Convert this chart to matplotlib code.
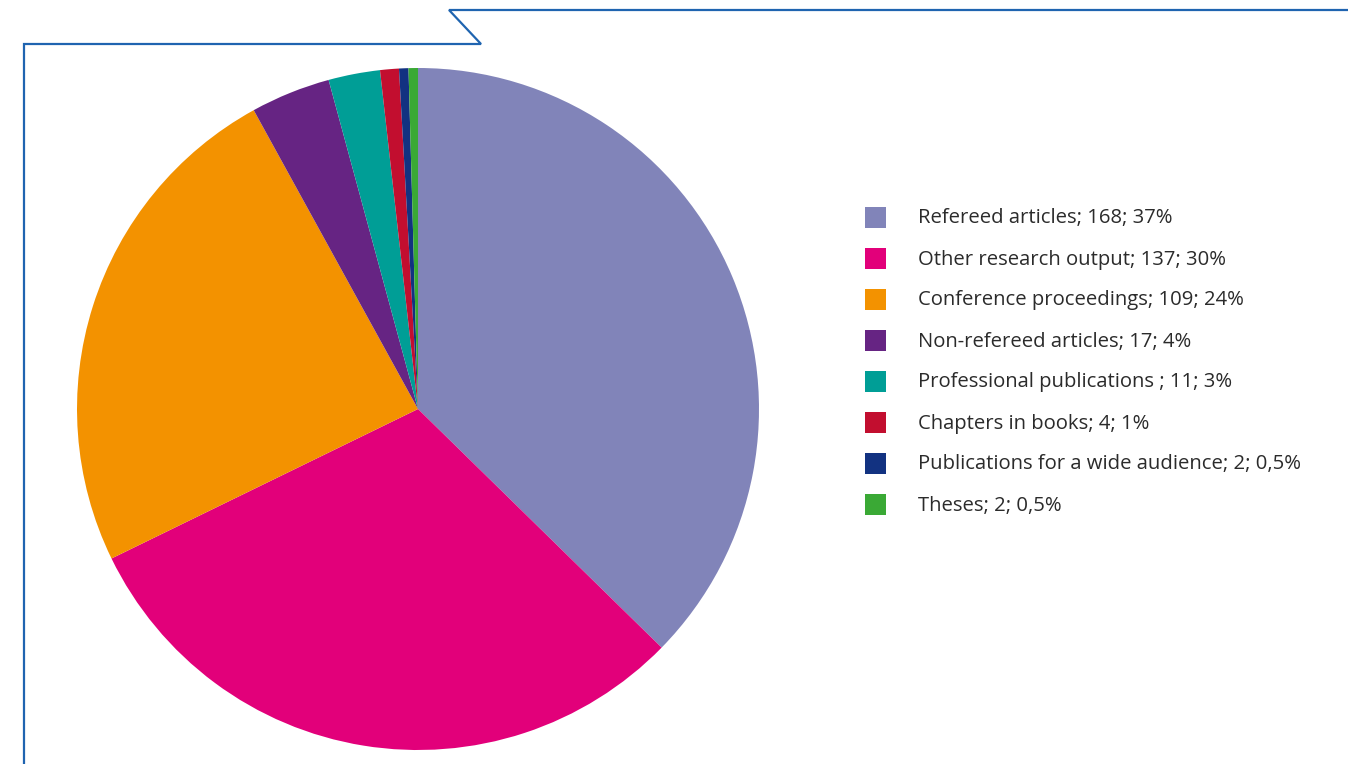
import matplotlib
matplotlib.use('Agg')
import matplotlib.pyplot as plt
from matplotlib.patches import Rectangle

# publication output by type
categories = ["Refereed articles", "Other research output", "Conference proceedings",
              "Non-refereed articles", "Professional publications ", "Chapters in books",
              "Publications for a wide audience", "Theses"]
counts = [168, 137, 109, 17, 11, 4, 2, 2]
shares = ["37%", "30%", "24%", "4%", "3%", "1%", "0,5%", "0,5%"]
colors = ["#8184b9", "#e2007a", "#f39200", "#662483", "#009e96", "#c20e2f", "#123281", "#3aa935"]

W, H = 1348, 764
fig = plt.figure(figsize=(W / 100, H / 100), dpi=100)

# overlay axes in pixel units for frame lines and legend
ov = fig.add_axes([0, 0, 1, 1])
ov.set_xlim(0, W)
ov.set_ylim(H, 0)
ov.axis('off')

frame = "#1f64b0"
ov.plot([24, 24, 481, 449, W], [H, 44, 44, 10, 10], color=frame, lw=1.6,
        solid_joinstyle='miter')

# pie
cx, cy, r = 418, 409, 341
ax = fig.add_axes([(cx - r) / W, (H - cy - r) / H, 2 * r / W, 2 * r / H])
ax.pie(counts, colors=colors, startangle=90, counterclock=False, radius=1,
       wedgeprops=dict(linewidth=0))
ax.set_xlim(-1, 1)
ax.set_ylim(-1, 1)
ax.axis('off')

# legend
y0, dy = 217, 41
for i, (cat, n, s, c) in enumerate(zip(categories, counts, shares, colors)):
    y = y0 + i * dy
    ov.add_patch(Rectangle((865, y - 10.5), 21, 21, color=c, lw=0))
    ov.text(918, y + 1.5, f"{cat}; {n}; {s}", fontsize=14.6, family="Open Sans",
            color="#2b2b2b", va='center', ha='left')

fig.savefig("out.png", dpi=100)
